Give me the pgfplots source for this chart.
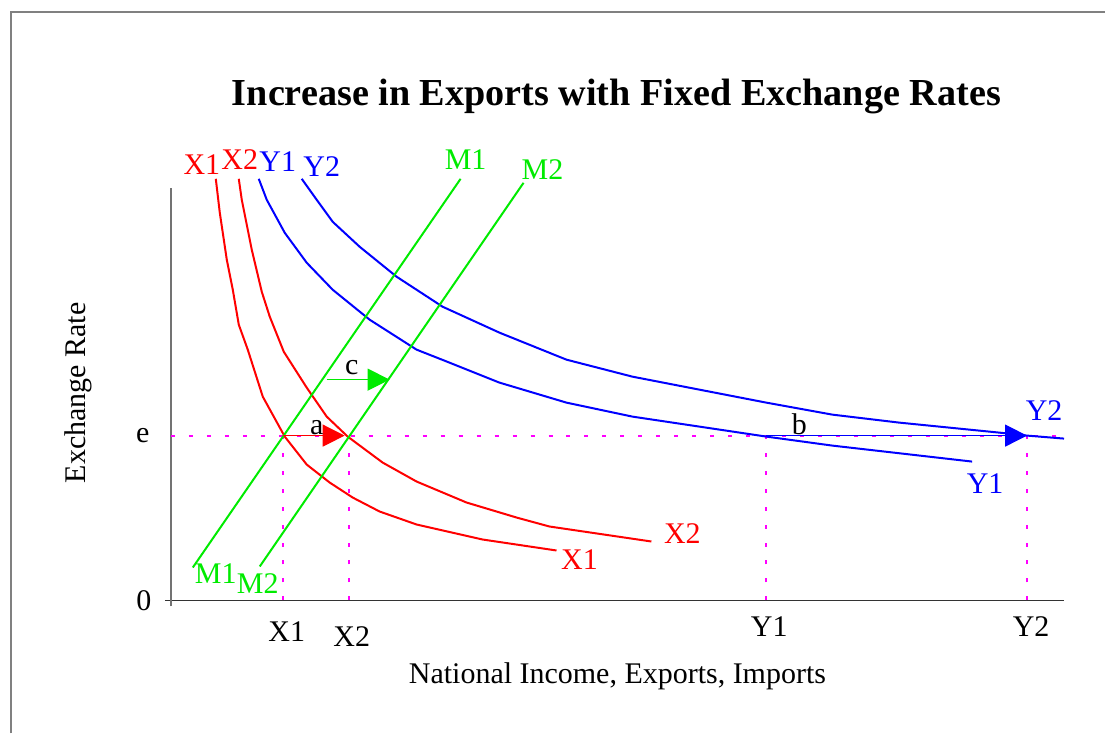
\documentclass[border=0pt]{standalone}
\usepackage{fontspec}
\setmainfont{Liberation Serif}
\usepackage{pgfplots}
\pgfplotsset{compat=1.18}
\usetikzlibrary{arrows.meta}
\definecolor{cgreen}{RGB}{0,235,0}
\definecolor{cmag}{RGB}{255,0,255}
\definecolor{frame}{RGB}{128,128,128}
\newcommand{\lab}{\fontsize{15bp}{18bp}\selectfont}
\begin{document}
\begin{tikzpicture}
\begin{axis}[
  width=553bp, height=367bp, scale only axis,
  xmin=0, xmax=1106, ymin=0, ymax=734,
  hide axis, clip=false,
]
% invisible extent
\addplot[draw=none] coordinates {(0,0) (1106,734)};
% frame
\addplot[frame, line width=1bp] coordinates {(11,0) (11,722) (1106,722)};
% axes
\addplot[black!80, line width=0.8bp] coordinates {(165,133) (1065,133)};
\addplot[black!55, line width=0.8bp] coordinates {(171,127) (171,546)};
% dashed guide lines
\addplot[cmag, line width=0.9bp, dash pattern=on 2bp off 7bp] coordinates {(171,298) (1060,298)};
\addplot[cmag, line width=0.9bp, dash pattern=on 2bp off 7bp] coordinates {(283,133) (283,298)};
\addplot[cmag, line width=0.9bp, dash pattern=on 2bp off 7bp] coordinates {(349,133) (349,298)};
\addplot[cmag, line width=0.9bp, dash pattern=on 2bp off 7bp] coordinates {(767,133) (767,298)};
\addplot[cmag, line width=0.9bp, dash pattern=on 2bp off 7bp] coordinates {(1028,133) (1028,298)};
% X1
\addplot[red, line width=1bp] coordinates {(216,555) (220,521) (227,474) (233,444) (239,409) (248,384) (263,337) (285,297) (307,269) (330,251) (353,236) (380,222) (417,209) (483,194) (557,183)};
% X2
\addplot[red, line width=1bp] coordinates {(239,555) (242,534) (252,484) (262,442) (270,417) (284,382) (307,346) (327,317) (348,297) (383,271) (417,252) (467,231) (517,216) (550,207) (652,192)};
% Y1
\addplot[blue, line width=1bp] coordinates {(259,555) (267,534) (285,501) (307,471) (333,444) (370,414) (417,384) (450,371) (500,351) (567,331) (633,317) (700,307) (767,297) (833,288) (973,272)};
% Y2
\addplot[blue, line width=1bp] coordinates {(302,555) (317,534) (333,512) (360,487) (397,457) (443,427) (500,401) (567,374) (633,357) (700,344) (767,331) (833,319) (900,311) (1000,301) (1028,298) (1065,295)};
% M1, M2
\addplot[cgreen, line width=1bp] coordinates {(193,166) (461,555)};
\addplot[cgreen, line width=1bp] coordinates {(260,167) (524,551)};
% arrows
\addplot[red, line width=0.6bp, -{Triangle[length=11bp,width=11bp]}] coordinates {(283,298) (345,298)};
\addplot[cgreen, line width=0.6bp, -{Triangle[length=11bp,width=11bp]}] coordinates {(327,354) (390,354)};
\addplot[blue, line width=0.6bp, -{Triangle[length=11bp,width=11bp]}] coordinates {(767,298) (1028,298)};
% title
\node[inner sep=0, font=\fontsize{19.1bp}{23bp}\selectfont\bfseries] at (axis cs:617,637) {Increase in Exports with Fixed Exchange Rates};
% curve labels
\node[inner sep=0, font=\lab, red] at (axis cs:202,569) {X1};
\node[inner sep=0, font=\lab, red] at (axis cs:240,574) {X2};
\node[inner sep=0, font=\lab, blue] at (axis cs:278,572) {Y1};
\node[inner sep=0, font=\lab, blue] at (axis cs:322,567) {Y2};
\node[inner sep=0, font=\lab, cgreen] at (axis cs:466,574) {M1};
\node[inner sep=0, font=\lab, cgreen] at (axis cs:543,564) {M2};
\node[inner sep=0, font=\lab, cgreen] at (axis cs:216,160) {M1};
\node[inner sep=0, font=\lab, cgreen] at (axis cs:258,150) {M2};
\node[inner sep=0, font=\lab, red] at (axis cs:580,174) {X1};
\node[inner sep=0, font=\lab, red] at (axis cs:683,200) {X2};
\node[inner sep=0, font=\lab, blue] at (axis cs:986,250) {Y1};
\node[inner sep=0, font=\lab, blue] at (axis cs:1045,323) {Y2};
\node[inner sep=0, font=\lab] at (axis cs:317,306) {a};
\node[inner sep=0, font=\lab] at (axis cs:352,366) {c};
\node[inner sep=0, font=\lab] at (axis cs:800,309) {b};
% tick labels
\node[inner sep=0, font=\lab] at (axis cs:287,102) {X1};
\node[inner sep=0, font=\lab] at (axis cs:352,97) {X2};
\node[inner sep=0, font=\lab] at (axis cs:770,107) {Y1};
\node[inner sep=0, font=\lab] at (axis cs:1032,107) {Y2};
\node[inner sep=0, font=\lab, anchor=east] at (axis cs:152,133) {0};
\node[inner sep=0, font=\lab, anchor=east] at (axis cs:150,298) {e};
% axis labels
\node[inner sep=0, font=\lab] at (axis cs:618,57) {National Income, Exports, Imports};
\node[inner sep=0, font=\lab, rotate=90, anchor=base west] at (axis cs:86,250) {Exchange Rate};
\end{axis}
\end{tikzpicture}
\end{document}
